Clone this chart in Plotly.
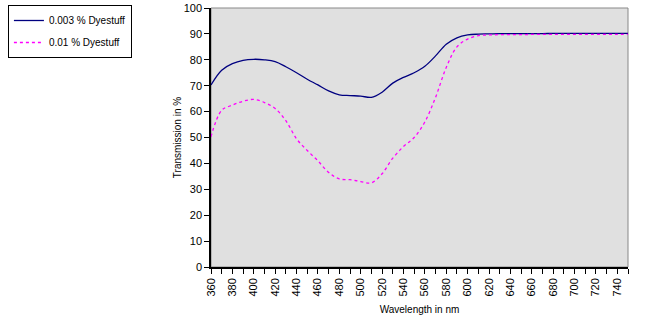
import plotly.graph_objects as go

wavelength = list(range(360, 760, 10))
dye_0003 = [70.3, 76.0, 78.5, 79.8, 80.2, 80.0, 79.3, 77.3, 75.0, 72.5,
            70.3, 68.0, 66.5, 66.2, 66.0, 65.5, 67.5, 71.0, 73.2, 75.0,
            77.5, 81.5, 86.0, 88.5, 89.6, 89.9, 90.0, 90.1, 90.1, 90.1,
            90.1, 90.1, 90.2, 90.2, 90.2, 90.2, 90.2, 90.2, 90.2, 90.2]
dye_001 = [50.3, 60.5, 62.5, 64.0, 64.7, 63.5, 61.2, 56.5, 49.5, 45.0,
           41.0, 36.5, 34.0, 33.7, 33.0, 32.5, 36.0, 42.0, 46.5, 50.0,
           56.0, 65.5, 77.0, 85.0, 88.0, 89.3, 89.6, 89.7, 89.7, 89.7,
           89.8, 89.8, 89.8, 89.8, 89.8, 89.8, 89.8, 89.8, 89.8, 89.8]
x_ticks = list(range(360, 760, 10))
x_labels = [str(v) if (v - 360) % 20 == 0 and v <= 740 else "" for v in x_ticks]
y_ticks = list(range(0, 110, 10))

font = "Liberation Sans, Arial, sans-serif"

fig = go.Figure()
fig.add_trace(go.Scatter(x=wavelength, y=dye_0003, mode="lines", name="0.003 % Dyestuff",
                         line=dict(color="#000080", width=1.3, shape="spline"), legendgroup="a"))
fig.add_trace(go.Scatter(x=wavelength, y=dye_001, mode="lines", name="0.01 % Dyestuff",
                         line=dict(color="#FF00FF", width=1.3, dash="dot", shape="spline"), legendgroup="b"))

fig.update_layout(
    width=662, height=323,
    margin=dict(l=211, r=34, t=8, b=56, autoexpand=False),
    plot_bgcolor="#E0E0E0", paper_bgcolor="white",
    font=dict(family=font, size=10, color="black"),
    legend=dict(x=-0.487, y=1.0116, xanchor="left", yanchor="top",
                bordercolor="black", borderwidth=1, bgcolor="white",
                font=dict(size=10), tracegroupgap=3, traceorder="grouped"),
    xaxis=dict(range=[360, 750], tickmode="array", tickvals=x_ticks, ticktext=x_labels,
               tickangle=-90, ticks="outside", ticklen=5, tickcolor="black",
               showline=True, linecolor="black", linewidth=1.5, showgrid=False, zeroline=False,
               title=dict(text="Wavelength in nm", font=dict(size=10), standoff=10),
               tickfont=dict(size=11)),
    yaxis=dict(range=[0, 100], tickmode="array", tickvals=y_ticks,
               ticks="outside", ticklen=5, tickcolor="black",
               showline=True, linecolor="black", linewidth=1.5, showgrid=False, zeroline=False,
               title=dict(text="Transmission in %", font=dict(size=10), standoff=0),
               tickfont=dict(size=11)),
    shapes=[dict(type="rect", xref="paper", yref="paper", x0=0, x1=1, y0=0, y1=1,
                 line=dict(color="#888888", width=1), layer="below")],
)

fig.write_html("out.html", config={"displayModeBar": False},
               post_script="document.body.style.margin='0px';")
